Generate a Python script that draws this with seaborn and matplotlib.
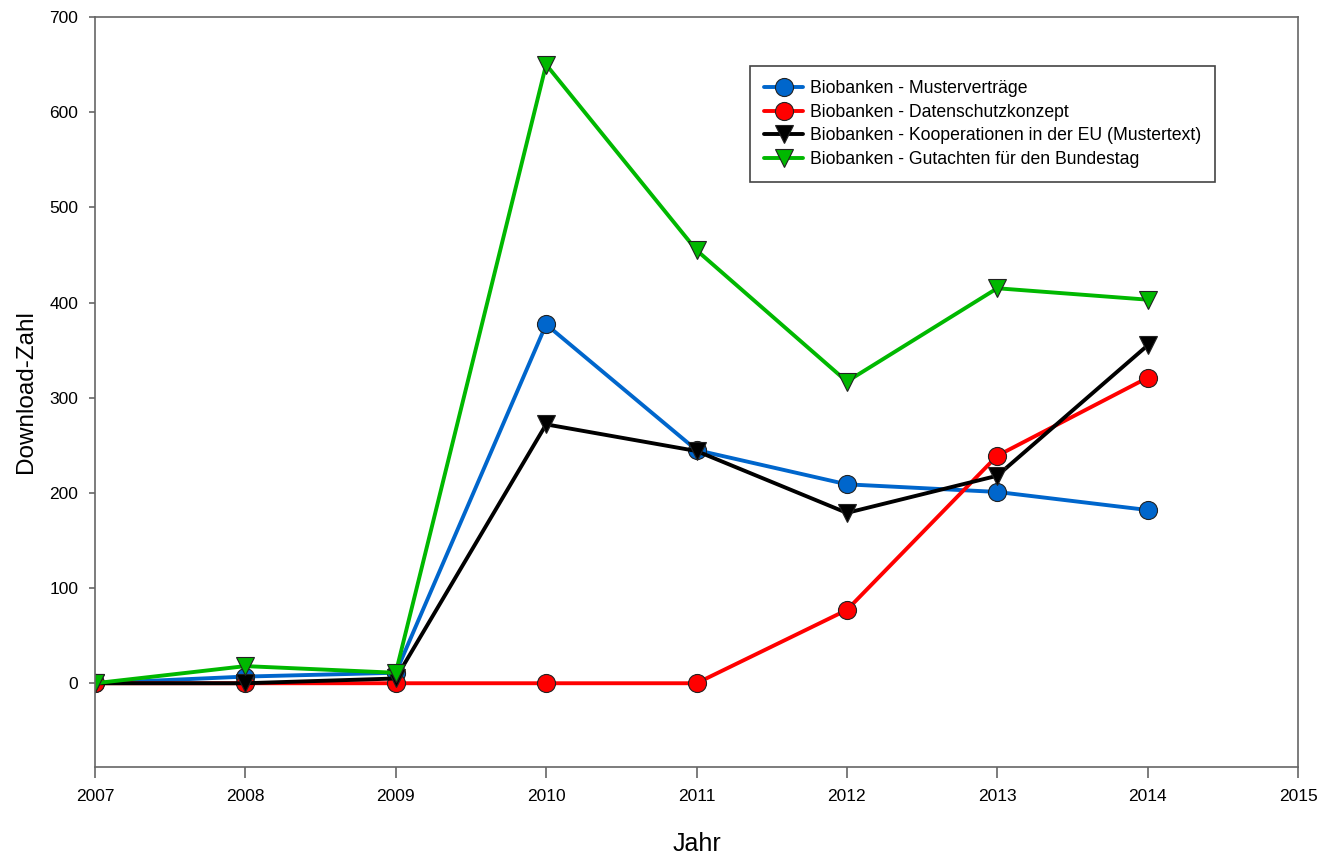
import matplotlib
matplotlib.use("Agg")
import matplotlib.pyplot as plt
import seaborn as sns
import pandas as pd

years = [2007, 2008, 2009, 2010, 2011, 2012, 2013, 2014]
muster = [0, 7, 11, 377, 245, 209, 201, 182]
datenschutz = [0, 0, 0, 0, 0, 77, 239, 321]
kooperation = [0, 0, 5, 272, 244, 179, 218, 355]
gutachten = [0, 18, 11, 650, 455, 317, 415, 403]

series = [
    ("Biobanken - Musterverträge", muster, "#0066CC", "o"),
    ("Biobanken - Datenschutzkonzept", datenschutz, "#FF0000", "o"),
    ("Biobanken - Kooperationen in der EU (Mustertext)", kooperation, "#000000", "v"),
    ("Biobanken - Gutachten für den Bundestag", gutachten, "#00B800", "v"),
]

sns.set_style("white")
plt.rcParams['font.family'] = ['Liberation Sans', 'DejaVu Sans']
plt.rcParams['text.color'] = 'black'
plt.rcParams['axes.labelcolor'] = 'black'
plt.rcParams['xtick.color'] = 'black'
plt.rcParams['ytick.color'] = 'black'

fig = plt.figure(figsize=(13.21, 8.56), dpi=100)
ax = fig.add_axes([95/1321, 1-767/856, (1298-95)/1321, (767-17)/856])

for name, vals, col, mk in series:
    df = pd.DataFrame({"Jahr": years, "Wert": vals})
    sns.lineplot(data=df, x="Jahr", y="Wert", ax=ax, color=col, marker=mk,
                 markersize=13, markeredgecolor="#222222", markeredgewidth=0.8,
                 linewidth=2.8, label=name)

ax.set_xlim(2007, 2015)
ax.set_ylim(-88, 700)
ax.set_xticks(range(2007, 2016))
ax.set_yticks(range(0, 701, 100))
ax.tick_params(axis="x", direction="out", length=8, width=1.2, pad=8,
               color="#666666", labelsize=12.5, labelcolor="black")
ax.tick_params(axis="y", direction="out", length=4, width=1.2, pad=8,
               color="#666666", labelsize=12.5, labelcolor="black")
ax.tick_params(bottom=True, left=True, top=False, right=False)
for s in ax.spines.values():
    s.set_color("#666666")
    s.set_linewidth(1.2)
ax.set_xlabel("Jahr", fontsize=18, labelpad=20, color="black")
ax.set_ylabel("Download-Zahl", fontsize=17.5, labelpad=9, color="black")

leg = ax.legend(loc="upper left", bbox_to_anchor=(0.5445, 0.9347), borderaxespad=0,
                fontsize=12.7, frameon=True, fancybox=False, framealpha=1,
                edgecolor="#444444", borderpad=0.8, handlelength=2.2,
                handletextpad=0.4, labelspacing=0.38)
leg.get_frame().set_linewidth(1.2)

fig.savefig("out.png", dpi=100)
